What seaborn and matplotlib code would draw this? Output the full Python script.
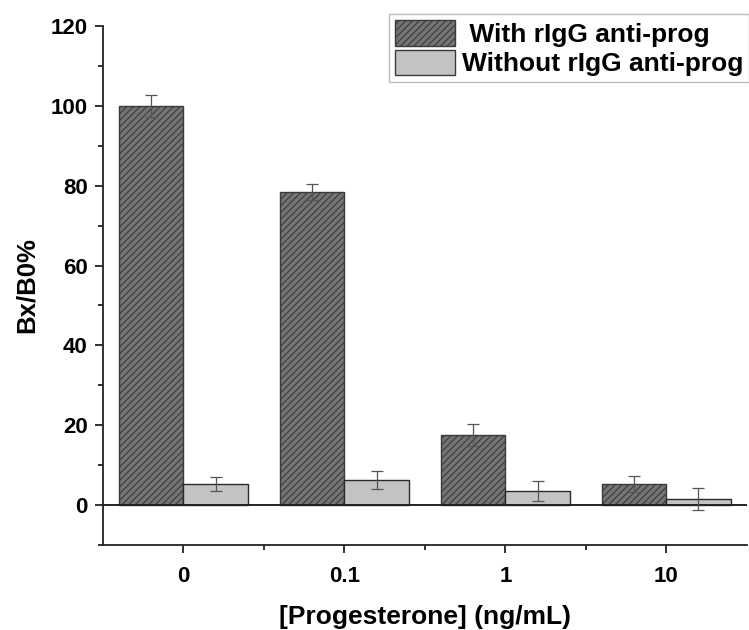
import matplotlib
matplotlib.use("Agg")
import matplotlib.pyplot as plt
from matplotlib.ticker import MultipleLocator, FixedLocator
from matplotlib.patches import Patch
import seaborn as sns
import pandas as pd
import numpy as np

categories = ["0", "0.1", "1", "10"]
series_names = ["With rIgG anti-prog", "Without rIgG anti-prog"]
with_vals = [100.0, 78.3, 17.5, 5.2]
with_err = [2.7, 2.0, 2.7, 2.0]
without_vals = [5.3, 6.3, 3.5, 1.5]
without_err = [1.7, 2.3, 2.5, 2.7]

sns.set_theme(style="ticks")
plt.rcParams['font.family'] = ['Liberation Sans', 'DejaVu Sans']
plt.rcParams['font.weight'] = 'bold'
plt.rcParams['hatch.linewidth'] = 0.8
plt.rcParams['text.color'] = 'black'
plt.rcParams['xtick.color'] = 'black'
plt.rcParams['ytick.color'] = 'black'
plt.rcParams['axes.labelcolor'] = 'black'

df = pd.DataFrame({
    "conc": categories * 2,
    "val": with_vals + without_vals,
    "series": [series_names[0]] * 4 + [series_names[1]] * 4,
})

fig = plt.figure(figsize=(7.49, 6.3), dpi=100)
ax = fig.add_axes([0.1375, 0.135, 0.997 - 0.1375, 0.9587 - 0.135])

colors = ["#747474", "#c3c3c3"]
sns.barplot(data=df, x="conc", y="val", hue="series", order=categories,
            hue_order=series_names, palette=colors, ax=ax, width=0.8,
            errorbar=None, edgecolor="#2a2a2a", linewidth=1.0, saturation=1,
            legend=False)

n = len(categories)
for i, patch in enumerate(ax.patches[:2 * n]):
    if i < n:
        patch.set_hatch("/////")
        patch.set_edgecolor("#3a3a3a")

errs = with_err + without_err
vals = with_vals + without_vals
for i, patch in enumerate(ax.patches[:2 * n]):
    cx = patch.get_x() + patch.get_width() / 2
    ax.errorbar(cx, vals[i], yerr=errs[i], color="#555555", capsize=4,
                elinewidth=0.9, capthick=0.9, fmt="none", zorder=5)

ax.axhline(0, color="#222222", lw=1.4, zorder=4)

ax.set_xlim(-0.5, 3.5)
ax.set_ylim(-10, 120)
ax.yaxis.set_major_locator(FixedLocator([0, 20, 40, 60, 80, 100, 120]))
ax.yaxis.set_minor_locator(MultipleLocator(10))
ax.xaxis.set_minor_locator(FixedLocator([0.5, 1.5, 2.5]))
ax.tick_params(axis="both", which="major", direction="out", length=6, width=1.3,
               labelsize=16, color="#222222", labelcolor="black")
ax.tick_params(axis="both", which="minor", direction="out", length=3.5, width=1.3,
               color="#222222")
ax.tick_params(axis="x", pad=9)
ax.tick_params(axis="y", pad=5)
for lab in ax.get_xticklabels() + ax.get_yticklabels():
    lab.set_fontweight("bold")

ax.spines["top"].set_visible(False)
ax.spines["right"].set_visible(False)
ax.spines["left"].set_linewidth(1.3)
ax.spines["bottom"].set_linewidth(1.3)
ax.spines["left"].set_color("#222222")
ax.spines["bottom"].set_color("#222222")

ax.set_xlabel("[Progesterone] (ng/mL)", fontsize=19, fontweight="bold", labelpad=13)
ax.set_ylabel("Bx/B0%", fontsize=18.5, fontweight="bold")
ax.yaxis.set_label_coords(-0.1, 0.5)

handles = [Patch(facecolor=colors[0], edgecolor="#3a3a3a", hatch="/////"),
           Patch(facecolor=colors[1], edgecolor="#3a3a3a")]
leg = fig.legend(handles, [" " + series_names[0], series_names[1]],
                 loc="upper right", bbox_to_anchor=(1.0, 0.977),
                 fontsize=19, frameon=True, fancybox=False,
                 edgecolor="#aaaaaa", handlelength=2.3, handleheight=1.1,
                 labelspacing=0.1, handletextpad=0.25, borderpad=0.22,
                 borderaxespad=0.0)
leg.get_frame().set_linewidth(1.0)
for t in leg.get_texts():
    t.set_fontweight("bold")

fig.savefig("out.png", dpi=100)
